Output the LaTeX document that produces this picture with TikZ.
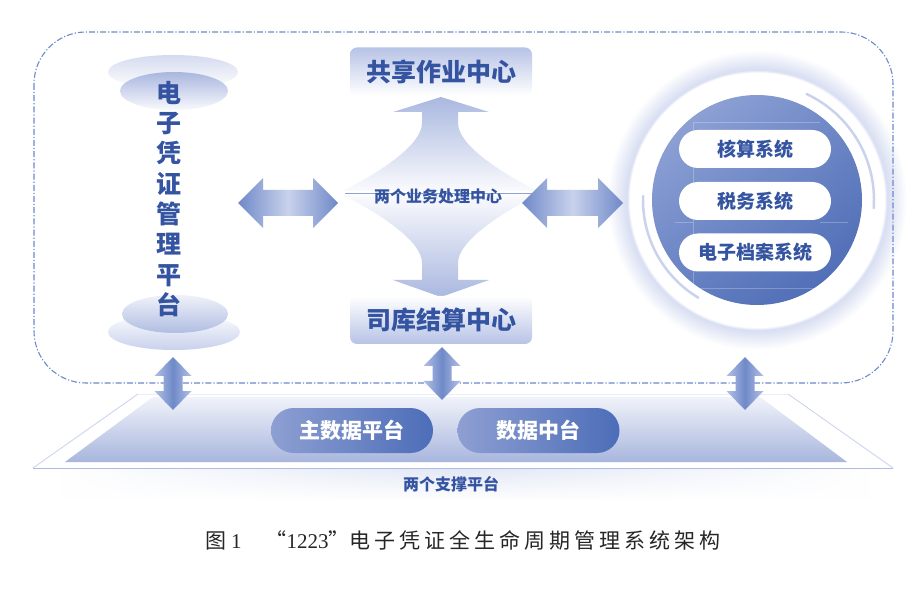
\documentclass[tikz,border=0pt]{standalone}
\usepackage{fontspec}
\usetikzlibrary{shadings,fadings}
\setmainfont{Liberation Serif}
\newfontfamily\cjk{Noto Sans CJK SC}
\definecolor{tblue}{HTML}{3454A2}
\definecolor{dashc}{HTML}{6D8ACB}
\definecolor{arrd}{HTML}{6F89C8}
\definecolor{arrl}{HTML}{C9D2EC}
\definecolor{varl}{HTML}{B3C1E6}
\definecolor{boxc}{HTML}{B7C3E6}
\definecolor{starc}{HTML}{AAB8E0}
\definecolor{cul}{HTML}{9AABDA}
\definecolor{cur}{HTML}{6F89C7}
\definecolor{cll}{HTML}{6681C3}
\definecolor{clr}{HTML}{4766B2}
\definecolor{pilld}{HTML}{4C6DB8}
\definecolor{pilll}{HTML}{8E9FD2}
\definecolor{platt}{HTML}{F1F3FA}
\definecolor{platb}{HTML}{A8B6DE}
\definecolor{platl}{HTML}{AEBBE3}
\definecolor{glowc}{HTML}{D8DEF2}
\definecolor{arcc}{HTML}{CBD3EC}
\definecolor{ellA}{HTML}{D5DBEF}
\definecolor{ellB}{HTML}{A9B7DF}
\definecolor{ellC}{HTML}{B0BDE2}
\definecolor{ellD}{HTML}{C8D1EC}
\definecolor{shadc}{HTML}{DCE2F3}
\definecolor{linec}{HTML}{8EA2D2}
\tikzfading[name=hfade, left color=transparent!100, right color=transparent!100, middle color=transparent!0]
\pgfdeclareradialshading{cglow}{\pgfpoint{0bp}{0bp}}{color(0bp)=(white); color(21.2bp)=(white); color(21.7bp)=(glowc); color(25bp)=(white); color(50bp)=(white)}
\newcommand\hdarr[3]{%
  \shade[left color=arrd, right color=arrd, middle color=arrl] (#1,#3) -- (#1+25,#3-25) -- (#1+25,#3-13) -- (#2-25,#3-13) -- (#2-25,#3-25) -- (#2,#3) -- (#2-25,#3+25) -- (#2-25,#3+13) -- (#1+25,#3+13) -- (#1+25,#3+25) -- cycle;}
\newcommand\vdarr[3]{%
  \shade[left color=varl, right color=varl, middle color=arrd] (#1,#2) -- (#1+18.5,#2+19) -- (#1+9.5,#2+19) -- (#1+9.5,#3-19) -- (#1+18.5,#3-19) -- (#1,#3) -- (#1-18.5,#3-19) -- (#1-9.5,#3-19) -- (#1-9.5,#2+19) -- (#1-18.5,#2+19) -- cycle;}
\begin{document}
\begin{tikzpicture}[x=1pt,y=-1pt,
  cjkb/.style={font=\cjk\bfseries\fontsize{#1}{#1}\selectfont},
  box/.style={minimum width=182pt, minimum height=48pt, rounded corners=7pt, cjkb=25, text=tblue, inner sep=0pt},
  syspill/.style={fill=white, minimum width=152pt, minimum height=38pt, rounded corners=19pt, cjkb=19, text=tblue, inner sep=0pt},
  datapill/.style={left color=pilll, right color=pilld, minimum width=162pt, minimum height=45pt, rounded corners=22.5pt, cjkb=21, text=white, inner sep=0pt}]
\fill[white] (0,0) rectangle (910,593);
\useasboundingbox (0,0) rectangle (910,593);

% circle glow (behind everything)
\shade[shading=cglow] (757,200) circle (150);

% dashed frame
\draw[dashc, line width=1.1pt, dash pattern=on 6pt off 2pt on 1.2pt off 2pt, rounded corners=52pt] (34,32) rectangle (893,383);

% left ellipses
\shade[top color=ellA, bottom color=white] (173,72) ellipse [x radius=65, y radius=17];
\shade[top color=ellB, bottom color=white!92!ellB] (174,91) ellipse [x radius=54, y radius=19];
\shade[top color=white!95!ellD, bottom color=ellD] (174,332) ellipse [x radius=66, y radius=18];
\shade[top color=white!80!ellC, bottom color=ellC] (175,314) ellipse [x radius=53, y radius=19];
\node[cjkb=25, text=tblue, align=center, inner sep=0pt, font=\cjk\bfseries\fontsize{25}{30.3}\selectfont] (dz) at (169,199) {电\\子\\凭\\证\\管\\理\\平\\台};

% central star
\shade[top color=starc, bottom color=white!94!starc] (343,191) .. controls (380,172) and (422,145) .. (422,123) -- (422,112) -- (393,112) -- (441,97) -- (489,112) -- (458,112) -- (458,123) .. controls (458,145) and (500,172) .. (537,191) -- cycle;
\shade[top color=white!94!starc, bottom color=starc] (343,195) .. controls (380,214) and (422,241) .. (422,263) -- (422,280) -- (393,280) -- (441,297) -- (489,280) -- (458,280) -- (458,263) .. controls (458,241) and (500,214) .. (537,195) -- cycle;
\draw[linec, line width=0.8pt] (345,193) -- (548,193);
\node[cjkb=16, text=tblue, inner sep=0pt] (lw) at (438,196) {两个业务处理中心};

\node[box, top color=boxc, bottom color=white] (gx) at (441,71.5) {共享作业中心};
\node[box, top color=white, bottom color=boxc] (sk) at (441,320) {司库结算中心};

% circle
\fill[white] (757,200) circle (127);
\draw[arcc, line width=2.5pt, line cap=round] (757,200) ++(-65:117) arc[start angle=-65, end angle=4, radius=117];
\draw[arcc, line width=2.5pt, line cap=round] (757,200) ++(121:114) arc[start angle=121, end angle=182, radius=114];
\shade[upper left=cul, upper right=cur, lower left=cll, lower right=clr] (757,200) circle (105);
\begin{scope}
\clip (757,200) circle (105);
\draw[white, opacity=0.25, line width=0.6pt] (693,122) -- (820,122) (693,122) -- (693,288) (665,288) -- (833,288) (675,222) -- (693,222) (820,222) -- (848,222);
\end{scope}
\node[syspill] (hs) at (755,149) {核算系统};
\node[syspill] (sw) at (755,201) {税务系统};
\node[syspill] (da) at (755,252.5) {电子档案系统};

% horizontal double arrows
\hdarr{238}{338}{203}
\hdarr{522}{623}{203}

% platform
\shade[top color=shadc, bottom color=white, path fading=hfade] (60,462) rectangle (870,500);
\fill[white] (33,468) -- (893,468) -- (788,394) -- (138,394) -- cycle;
\draw[platl!60, line width=0.9pt] (138,394) -- (33,468);
\draw[platl!60, line width=0.9pt] (893,468) -- (788,394);
\draw[platl, line width=1pt] (33,468) -- (893,468);
\draw[platl!25, line width=0.8pt] (138,394) -- (788,394);
\shade[top color=platt, bottom color=platb] (65,462) -- (847,462) -- (760,397) -- (153,397) -- cycle;
\node[datapill] (zs) at (352,430.5) {主数据平台};
\node[datapill] (sj) at (538.5,430.5) {数据中台};
\node[cjkb=16, text=tblue, inner sep=0pt] (zc) at (451,484) {两个支撑平台};

% vertical double arrows
\vdarr{173}{357}{410}
\vdarr{442}{347}{400}
\vdarr{745}{357}{410}

% caption
\node[anchor=west, inner sep=0pt, text=black!85, font=\fontsize{21}{21}\selectfont] (cap) at (205,540) {{\cjk 图}\kern5pt 1\hspace{24pt}{\cjk “}1223{\cjk ”}{\cjk 电\kern4pt 子\kern4pt 凭\kern4pt 证\kern4pt 全\kern4pt 生\kern4pt 命\kern4pt 周\kern4pt 期\kern4pt 管\kern4pt 理\kern4pt 系\kern4pt 统\kern4pt 架\kern4pt 构}};
\end{tikzpicture}
\end{document}
